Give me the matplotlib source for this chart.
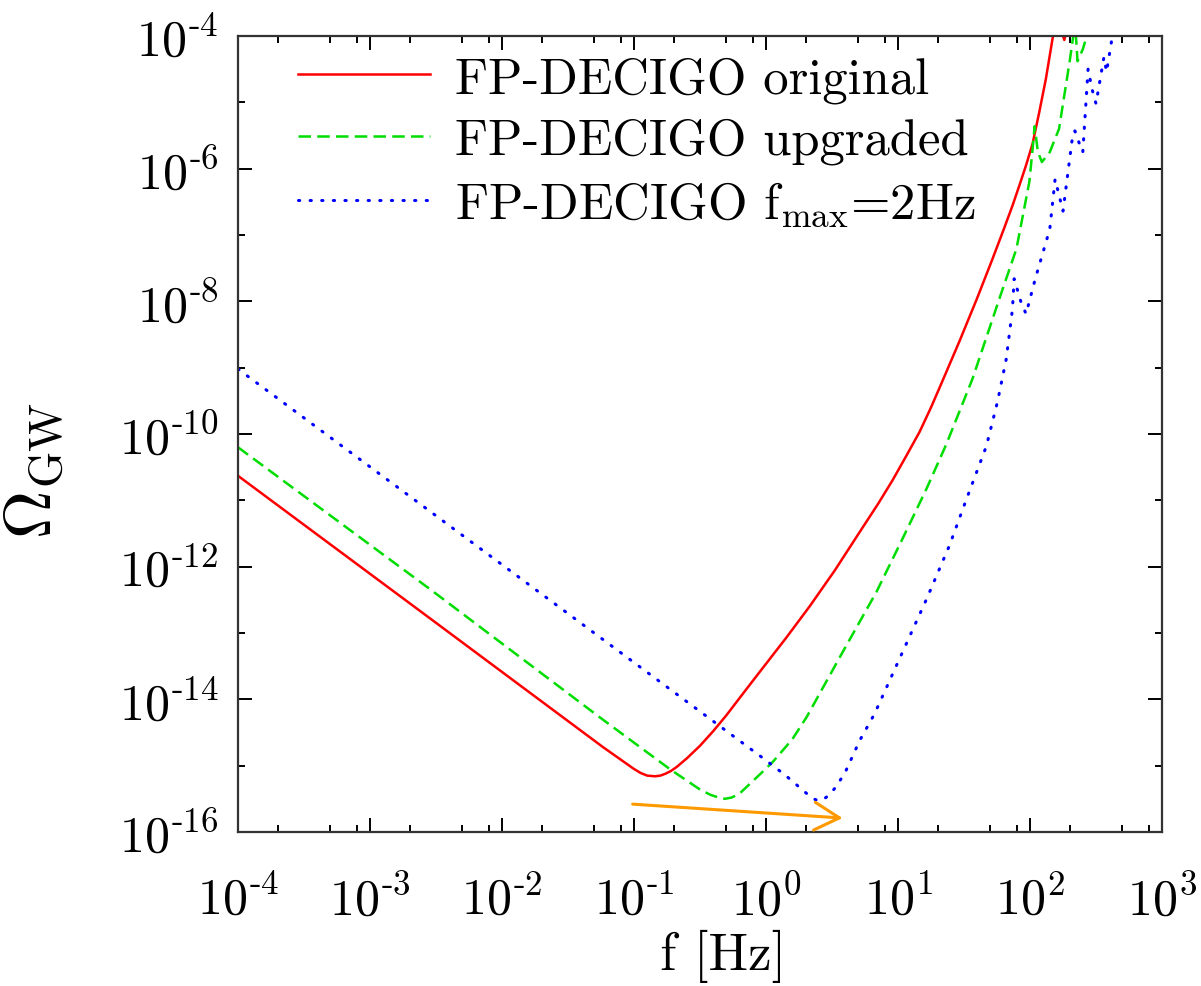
import numpy as np
import matplotlib
matplotlib.use("Agg")
import matplotlib.pyplot as plt
from matplotlib.ticker import LogLocator, FixedLocator, FixedFormatter, NullFormatter

plt.rcParams.update({
    "font.family": ["cmr10", "DejaVu Serif"],
    "mathtext.fontset": "cm",
    "axes.formatter.use_mathtext": True,
})

# ---------------------------------------------------------------------------
# Data (log10 f [Hz], log10 Omega_GW)
# ---------------------------------------------------------------------------
RED_LOGF = [-4.0, -2.545, -1.235, -1.0, -0.95, -0.90, -0.841, -0.80, -0.76, -0.72,
            -0.677, -0.6, -0.5, -0.4, -0.3, -0.2, -0.049, 0.15, 0.33, 0.52,
            0.709, 0.85, 0.958, 1.06, 1.163, 1.25, 1.337, 1.466, 1.6, 1.716,
            1.8, 1.867, 1.92, 1.97, 2.02, 2.07, 2.12, 2.17, 2.2, 2.26, 2.3]
RED_LOGO = [-10.63, -12.78, -14.72, -15.05, -15.11, -15.15, -15.16, -15.15, -15.12, -15.08,
            -15.02, -14.89, -14.70, -14.48, -14.24, -13.98, -13.59, -13.08, -12.60, -12.06,
            -11.48, -11.05, -10.70, -10.34, -9.97, -9.60, -9.20, -8.60, -7.95, -7.36,
            -6.92, -6.56, -6.25, -5.95, -5.62, -5.15, -4.65, -4.05, -3.7, -4.06, -3.7]

GREEN_LOGF = [-4.0, -2.545, -1.26, -0.73, -0.5, -0.42, -0.36, -0.311, -0.26, -0.2,
              -0.12, -0.03, 0.053, 0.2, 0.307, 0.58, 0.837, 1.034, 1.215, 1.367,
              1.564, 1.768, 1.897, 1.995, 2.02, 2.035, 2.06, 2.09, 2.15, 2.22,
              2.30, 2.335, 2.345, 2.36, 2.40, 2.43, 2.46]
GREEN_LOGO = [-10.20, -12.34, -14.27, -15.05, -15.36, -15.44, -15.48, -15.50, -15.48, -15.42,
              -15.27, -15.10, -14.94, -14.60, -14.27, -13.29, -12.38, -11.58, -10.83, -10.15,
              -9.17, -7.96, -7.21, -6.20, -5.70, -5.36, -5.75, -5.90, -5.75, -5.40,
              -4.39, -3.9, -3.9, -4.38, -4.2, -4.0, -3.7]

BLUE_LOGF = [-4.0, 0.0, 0.15, 0.25, 0.32, 0.36, 0.40, 0.44, 0.48, 0.53, 0.6, 0.71, 0.822,
             1.011, 1.216, 1.39, 1.519, 1.67, 1.753, 1.82, 1.867, 1.88, 1.93, 1.97,
             2.04, 2.15, 2.19, 2.22, 2.25, 2.32, 2.34, 2.37, 2.40, 2.44, 2.47, 2.50,
             2.56, 2.58, 2.62, 2.65]
BLUE_LOGO = [-9.02, -14.92, -15.15, -15.32, -15.44, -15.50, -15.53, -15.50, -15.44, -15.32, -15.10, -14.62, -14.22,
             -13.39, -12.49, -11.68, -10.98, -10.18, -9.52, -8.87, -8.12, -7.66, -8.0, -8.19,
             -7.66, -6.91, -6.16, -6.4, -6.64, -5.55, -5.43, -5.6, -5.75, -4.5, -4.8, -5.02,
             -4.32, -4.54, -4.05, -3.7]

LABELS = ["FP-DECIGO original",
          "FP-DECIGO upgraded",
          r"FP-DECIGO $\mathrm{f_{max}}$=2Hz"]

XTICK_EXP = [-4, -3, -2, -1, 0, 1, 2, 3]
YTICK_EXP = [-16, -14, -12, -10, -8, -6, -4]
YMINOR_EXP = [-15, -13, -11, -9, -7, -5]


def exp_label(e):
    # gnuplot-style label: short hyphen in the exponent
    if e < 0:
        return r"$10^{\text{-}%d}$" % (-e)
    return r"$10^{%d}$" % e


# ---------------------------------------------------------------------------
# Figure
# ---------------------------------------------------------------------------
fig = plt.figure(figsize=(12.01, 9.87), dpi=100)
ax = fig.add_axes([238 / 1201, 1 - 833 / 987, 924 / 1201, 796 / 987])

ax.plot(10.0 ** np.array(RED_LOGF), 10.0 ** np.array(RED_LOGO),
        color="#ff0000", lw=1.8, label=LABELS[0])
ax.plot(10.0 ** np.array(GREEN_LOGF), 10.0 ** np.array(GREEN_LOGO),
        color="#00dd00", lw=1.8, dashes=(5, 2.5), label=LABELS[1])
ax.plot(10.0 ** np.array(BLUE_LOGF), 10.0 ** np.array(BLUE_LOGO),
        color="#0000ff", lw=2.2, dashes=(0.4, 3.4), dash_capstyle="round",
        label=LABELS[2])

# orange arrow showing the shift of the sensitivity minimum
ax.annotate("", xy=(10 ** 0.58, 10 ** -15.79), xytext=(10 ** -1.01, 10 ** -15.58),
            arrowprops=dict(arrowstyle="->,head_length=0.9,head_width=0.5",
                            color="#ff9900", lw=2.2, mutation_scale=20,
                            shrinkA=0, shrinkB=0))

ax.set_xscale("log")
ax.set_yscale("log")
ax.set_xlim(1e-4, 1e3)
ax.set_ylim(1e-16, 1e-4)

ax.xaxis.set_major_locator(FixedLocator([10.0 ** e for e in XTICK_EXP]))
ax.xaxis.set_major_formatter(FixedFormatter([exp_label(e) for e in XTICK_EXP]))
ax.xaxis.set_minor_locator(LogLocator(base=10, subs=(2, 5, 8), numticks=20))
ax.xaxis.set_minor_formatter(NullFormatter())

ax.yaxis.set_major_locator(FixedLocator([10.0 ** e for e in YTICK_EXP]))
ax.yaxis.set_major_formatter(FixedFormatter([exp_label(e) for e in YTICK_EXP]))
ax.yaxis.set_minor_locator(FixedLocator([10.0 ** e for e in YMINOR_EXP]))
ax.yaxis.set_minor_formatter(NullFormatter())

ax.tick_params(which="both", direction="in", top=True, right=True, width=1.4,
               colors="black", labelsize=36)
ax.tick_params(which="major", length=10)
ax.tick_params(which="minor", length=5)
ax.tick_params(axis="x", which="major", pad=31)
ax.tick_params(axis="y", which="major", pad=14)
for sp in ax.spines.values():
    sp.set_linewidth(1.6)
    sp.set_color("#333333")

ax.set_xlabel("f [Hz]", fontsize=38)
ax.xaxis.label.set_verticalalignment("bottom")
ax.xaxis.set_label_coords(0.525, -(983 - 833) / 796)
ax.set_ylabel(r"$\Omega_{\rm GW}$", fontsize=48)
ax.yaxis.set_label_coords(-0.185, 0.455)

leg = ax.legend(loc="upper left", bbox_to_anchor=((298 - 238) / 924, 1 - (57 - 37) / 796),
                frameon=False, fontsize=36.5, handlelength=2.6, handletextpad=0.49,
                labelspacing=0.3, borderaxespad=0, borderpad=0)

fig.savefig("out.png", dpi=100)
